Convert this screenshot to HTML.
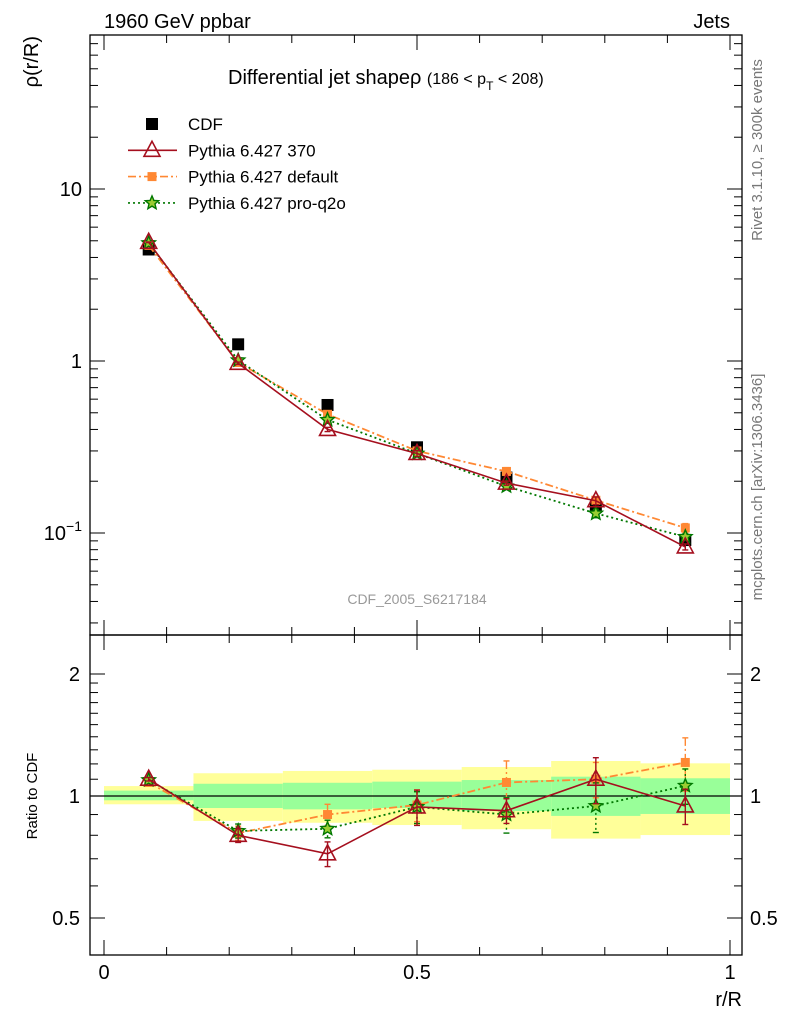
<!DOCTYPE html>
<html><head><meta charset="utf-8"><style>
html,body{margin:0;padding:0;background:#fff}
svg{display:block;font-family:"Liberation Sans",sans-serif}
</style></head><body>
<svg id="c" width="786" height="1024" xmlns="http://www.w3.org/2000/svg"></svg>
<script>
const xCenters=[0.0714,0.2143,0.3571,0.5,0.6429,0.7857,0.9286];
const binEdges=[0,0.1429,0.2857,0.4286,0.5714,0.7143,0.8571,1.0];
const cdfVals=[4.45,1.25,0.555,0.315,0.21,0.142,0.091];
const p370Vals=[4.9,0.97,0.40,0.29,0.195,0.154,0.083];
const pDefVals=[4.7,0.98,0.49,0.30,0.228,0.155,0.107];
const pQ2oVals=[4.85,1.01,0.455,0.29,0.187,0.13,0.095];
const p370Ratio=[1.10,0.80,0.72,0.94,0.92,1.10,0.945];
const pDefRatio=[1.08,0.81,0.90,0.95,1.08,1.10,1.21];
const pQ2oRatio=[1.095,0.82,0.83,0.94,0.90,0.945,1.06];
const p370Err=[0.01,0.04,0.07,0.1,0.07,0.13,0.1];
const pDefErr=[0.01,0.04,0.06,0.09,0.13,0.1,0.15];
const pQ2oErr=[0.01,0.04,0.05,0.09,0.1,0.14,0.1];
const yellowHi=[1.058,1.138,1.153,1.161,1.179,1.220,1.204];
const yellowLo=[0.954,0.868,0.859,0.848,0.828,0.785,0.801];
const greenHi=[1.031,1.072,1.078,1.085,1.095,1.116,1.106];
const greenLo=[0.976,0.934,0.927,0.934,0.918,0.893,0.903];
const xTickLabels=["0","0.5","1"];

const NS="http://www.w3.org/2000/svg";
const svg=document.getElementById('c');
function el(t,a,parent){const e=document.createElementNS(NS,t);for(const k in a)e.setAttribute(k,a[k]);(parent||svg).appendChild(e);return e;}
const L=90,R=742,T=35,M=635,B=955;
const X=v=>104+v*626;
const Ym=v=>189-(Math.log10(v)-1)*172;
const Yr=v=>796-Math.log2(v)*122;

// bands
const bands=el('g',{});


for(let i=0;i<7;i++){
  const r=el('rect',{x:X(binEdges[i]),y:Yr(yellowHi[i]),width:X(binEdges[i+1])-X(binEdges[i]),height:Yr(yellowLo[i])-Yr(yellowHi[i]),fill:'#ffff99'},bands);
  
  
  const g=el('rect',{x:X(binEdges[i]),y:Yr(greenHi[i]),width:X(binEdges[i+1])-X(binEdges[i]),height:Yr(greenLo[i])-Yr(greenHi[i]),fill:'#99ff99'},bands);
  
  
}
el('line',{x1:L,x2:R,y1:Yr(1),y2:Yr(1),stroke:'#000','stroke-width':1.3});

// frames
el('rect',{x:L,y:T,width:R-L,height:M-T,fill:'none',stroke:'#000','stroke-width':1.3});
el('rect',{x:L,y:M,width:R-L,height:B-M,fill:'none',stroke:'#000','stroke-width':1.3});

// main y ticks
for(let d=-2;d<=1;d++){for(let k=1;k<=9;k++){const v=k*Math.pow(10,d);const y=Ym(v);if(y<T||y>M)continue;const len=k==1?15:8;
el('line',{x1:L,x2:L+len,y1:y,y2:y,stroke:'#000'});el('line',{x1:R,x2:R-len,y1:y,y2:y,stroke:'#000'});}}
[[10,'10'],[1,'1']].forEach(([v,s])=>{const t=el('text',{x:L-8,y:Ym(v)+7,'text-anchor':'end','font-size':20});t.textContent=s;});
const te=el('text',{x:L-8,y:Ym(0.1)+7,'text-anchor':'end','font-size':20});te.innerHTML='10<tspan dy="-9" font-size="14">−1</tspan>';
// ratio y ticks
[0.5,0.6,0.7,0.8,0.9,1,1.1,1.2,1.3,1.4,1.5,1.6,1.7,1.8,1.9,2].forEach(v=>{const y=Yr(v);const len=(v==0.5||v==1||v==2)?15:8;
el('line',{x1:L,x2:L+len,y1:y,y2:y,stroke:'#000'});el('line',{x1:R,x2:R-len,y1:y,y2:y,stroke:'#000'});});
[[2,'2'],[1,'1'],[0.5,'0.5']].forEach(([v,s])=>{let t=el('text',{x:L-10,y:Yr(v)+7,'text-anchor':'end','font-size':20});t.textContent=s;
t=el('text',{x:R+8,y:Yr(v)+7,'font-size':20});t.textContent=s;});
// x ticks
for(let i=0;i<=10;i++){const v=i/10;const x=X(v);const len=i%5==0?15:8;
[[M,-1],[M,1],[B,-1],[T,1]].forEach(([y0,s])=>el('line',{x1:x,x2:x,y1:y0,y2:y0+s*len,stroke:'#000'}));}
xTickLabels.forEach((s,i)=>{const t=el('text',{x:X(i*0.5),y:979,'text-anchor':'middle','font-size':20});t.textContent=s;});

// series
function series(vals,Y,color,dash,marker,errs,name){
  const g=el('g',{});
  
  
  const pts=vals.map((v,i)=>[X(xCenters[i]),Y(v)]);
  if(color){el('polyline',{points:pts.map(p=>p.join(',')).join(' '),fill:'none',stroke:color,'stroke-width':dash?1.8:1.6,'stroke-dasharray':dash||'none'},g);}
  pts.forEach((p,i)=>{
    const [x,y]=p;
    if(errs){const hi=Y(vals[i]*(1+errs[i])),lo=Y(vals[i]*(1-errs[i]));
      el('line',{x1:x,x2:x,y1:hi,y2:lo,stroke:color,'stroke-width':1.4,'stroke-dasharray':dash||'none'},g);
      el('line',{x1:x-3,x2:x+3,y1:hi,y2:hi,stroke:color,'stroke-width':1.4},g);
      el('line',{x1:x-3,x2:x+3,y1:lo,y2:lo,stroke:color,'stroke-width':1.4},g);}
    marker(x,y,g);
  });
}
const sq=(c,s)=>(x,y,g)=>el('rect',{x:x-s,y:y-s,width:2*s,height:2*s,fill:c},g);
const tri=(x,y,g)=>el('polygon',{points:`${x},${y-9} ${x-8},${y+6} ${x+8},${y+6}`,fill:'none',stroke:'#a50f1e','stroke-width':1.6},g);
function starPts(x,y,r){let s=[];for(let i=0;i<10;i++){const a=-Math.PI/2+i*Math.PI/5;const rr=i%2?r*0.45:r;s.push((x+rr*Math.cos(a)).toFixed(1)+','+(y+rr*Math.sin(a)).toFixed(1));}return s.join(' ');}
const star=(x,y,g)=>el('polygon',{points:starPts(x,y,7),fill:'#9acd32',stroke:'#007700','stroke-width':1.4},g);

series(cdfVals,Ym,null,null,sq('#000',6),null,'cdf-data');
series(pDefVals,Ym,'#ff8833','8,3,2,3',sq('#ff8833',4.5),pDefErr.map(e=>e*0.4),'pythia-default-main');
series(pQ2oVals,Ym,'#007700','2,3',star,pQ2oErr.map(e=>e*0.4),'pythia-pro-q2o-main');
series(p370Vals,Ym,'#a50f1e',null,tri,p370Err.map(e=>e*0.4),'pythia-370-main');
series(pDefRatio,Yr,'#ff8833','8,3,2,3',sq('#ff8833',4.5),pDefErr,'pythia-default-ratio');
series(pQ2oRatio,Yr,'#007700','2,3',star,pQ2oErr,'pythia-pro-q2o-ratio');
series(p370Ratio,Yr,'#a50f1e',null,tri,p370Err,'pythia-370-ratio');

// legend
const lg=el('g',{});


const entries=[['CDF',null,null,sq('#000',6)],['Pythia 6.427 370','#a50f1e',null,tri],['Pythia 6.427 default','#ff8833','8,3,2,3',sq('#ff8833',4.5)],['Pythia 6.427 pro-q2o','#007700','2,3',star]];
entries.forEach((e,i)=>{const y=124+i*26.3;
  const g=el('g',{},lg);
  
  
  if(e[1])el('line',{x1:128,x2:177,y1:y,y2:y,stroke:e[1],'stroke-width':1.6,'stroke-dasharray':e[2]||'none'},g);
  e[3](152,y,g);
  const t=el('text',{x:188,y:y+6,'font-size':17},g);t.textContent=e[0];});

// texts
function txt(s,a,name){const t=el('text',a);t.textContent=s;return t;}
txt('1960 GeV ppbar',{x:104,y:28,'font-size':20},'energy-label');
txt('Jets',{x:730,y:28,'font-size':20,'text-anchor':'end'},'process-label');
const tt=el('text',{x:228,y:84,'font-size':20});tt.innerHTML='Differential jet shapeρ <tspan font-size="16">(186 &lt; p</tspan><tspan font-size="12" dy="6">T</tspan><tspan font-size="16" dy="-6"> &lt; 208)</tspan>';

txt('CDF_2005_S6217184',{x:417,y:604,'font-size':14,fill:'#999','text-anchor':'middle'},'analysis-watermark');
txt('ρ(r/R)',{x:0,y:0,'font-size':20,'text-anchor':'end',transform:'translate(38,36) rotate(-90)'},'y-axis-title');
txt('Ratio to CDF',{x:0,y:0,'font-size':15,'text-anchor':'middle',transform:'translate(37,796) rotate(-90)'},'ratio-axis-title');
txt('r/R',{x:742,y:1006,'font-size':20,'text-anchor':'end'},'x-axis-title');
txt('Rivet 3.1.10, ≥ 300k events',{x:0,y:0,'font-size':15,fill:'#777','text-anchor':'middle',transform:'translate(762,150) rotate(-90)'},'rivet-label');
txt('mcplots.cern.ch [arXiv:1306.3436]',{x:0,y:0,'font-size':15,fill:'#777','text-anchor':'middle',transform:'translate(762,487) rotate(-90)'},'mcplots-label');
</script>
</body></html>
